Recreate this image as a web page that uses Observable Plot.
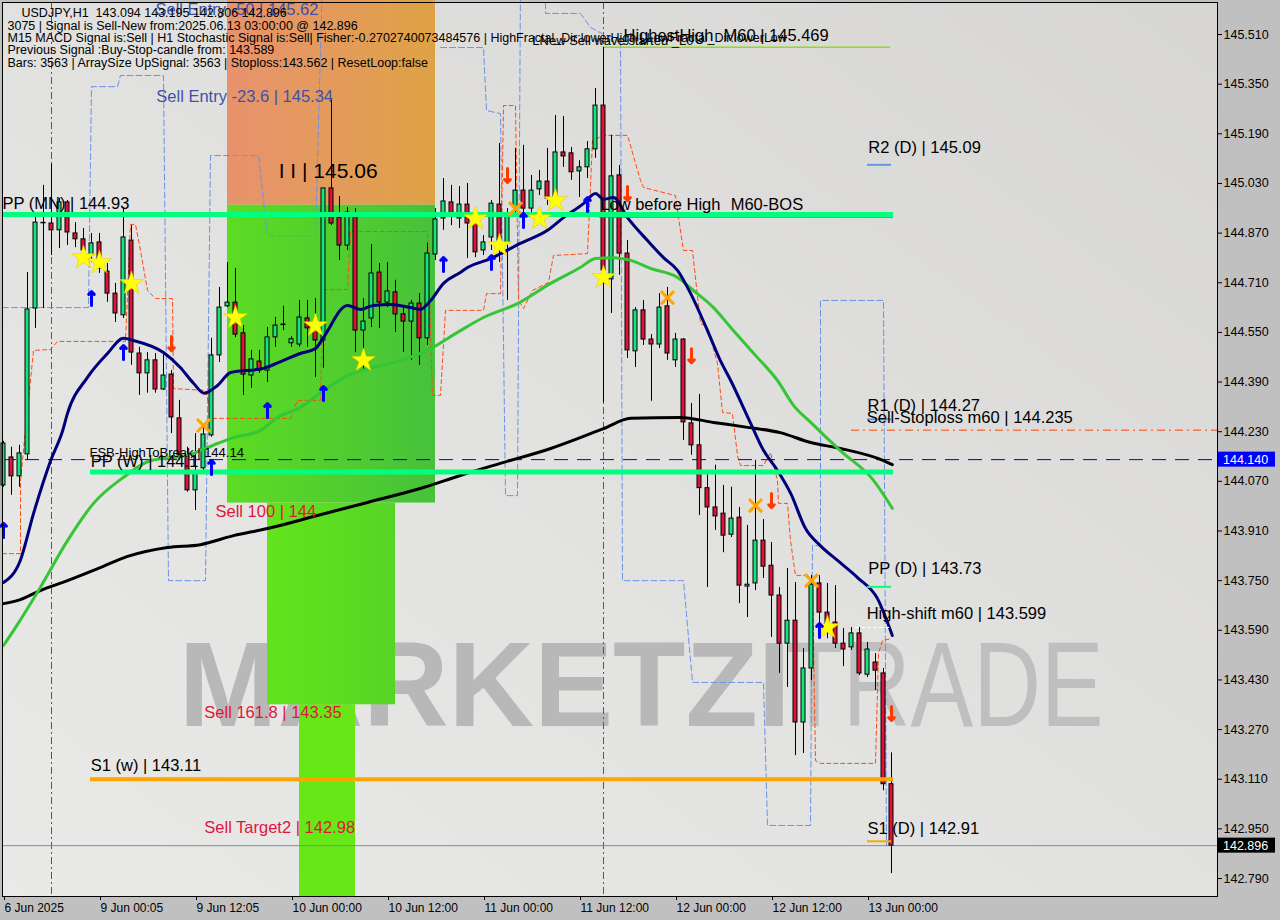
<!DOCTYPE html>
<html>
<head>
<meta charset="utf-8">
<script src="https://cdn.jsdelivr.net/npm/d3@7"></script>
<script src="https://cdn.jsdelivr.net/npm/@observablehq/plot@0.6"></script>
<style>
html,body{margin:0;padding:0;background:#c0c0c0;overflow:hidden}
#chart svg{display:block}
</style>
</head>
<body>
<div id="chart"></div>
<script>
// ---------- candles (USDJPY H1, 6 Jun 12:00 .. 13 Jun 03:00) ----------
const opens = [
144.057,144.147,144.086,144.157,144.627,144.900,144.901,144.879,144.969,144.869,
144.850,144.798,144.840,144.746,144.675,144.605,144.846,144.482,144.418,144.460,
144.366,144.414,144.273,144.154,144.041,144.112,144.218,144.476,144.634,144.646,
144.547,144.411,144.456,144.427,144.534,144.572,144.515,144.511,144.595,144.563,
144.524,145.014,144.920,144.830,144.933,144.556,144.595,144.743,144.646,144.679,
144.608,144.585,144.643,144.531,144.801,144.917,144.969,144.917,144.962,144.901,
144.814,144.856,144.962,144.837,144.952,145.007,144.949,145.011,145.036,144.985,
145.130,145.127,145.069,145.082,145.140,145.281,144.721,145.056,144.804,144.489,
144.621,144.527,144.511,144.634,144.460,144.527,144.257,144.186,144.048,143.986,
143.966,143.898,143.953,143.731,143.741,143.879,143.798,143.702,143.547,143.621,
143.293,143.467,143.741,143.647,143.615,143.547,143.535,143.580,143.447,143.486,
143.451,143.094];
const highs = [
144.199,144.180,144.186,144.743,144.927,145.024,145.092,144.982,144.975,144.904,
144.885,144.869,144.869,144.772,144.708,144.952,144.894,144.502,144.485,144.482,
144.482,144.427,144.331,144.180,144.224,144.244,144.531,144.695,144.775,144.756,
144.572,144.492,144.492,144.566,144.598,144.634,144.537,144.653,144.653,144.659,
145.014,145.298,144.988,144.952,144.949,144.659,144.833,144.772,144.775,144.718,
144.630,144.653,144.675,144.837,144.949,145.046,145.024,145.020,145.030,144.933,
144.862,144.975,145.159,144.949,145.143,145.153,145.056,145.072,145.143,145.249,
145.246,145.146,145.104,145.165,145.336,145.469,145.185,145.088,144.846,144.630,
144.653,144.543,144.675,144.695,144.547,144.530,144.321,144.350,144.096,144.122,
144.057,144.051,143.986,143.928,144.138,143.947,143.873,143.728,143.789,143.744,
143.531,143.766,143.766,143.741,143.734,143.596,143.599,143.599,143.551,143.515,
143.467,143.195];
const lows = [
144.051,144.025,144.051,144.138,144.563,144.627,144.798,144.820,144.830,144.823,
144.775,144.775,144.740,144.647,144.582,144.595,144.444,144.347,144.354,144.354,
144.363,144.224,144.138,144.035,143.976,144.105,144.212,144.453,144.630,144.533,
144.347,144.370,144.418,144.389,144.502,144.556,144.502,144.502,144.502,144.405,
144.434,144.895,144.782,144.814,144.485,144.427,144.566,144.563,144.630,144.550,
144.485,144.460,144.444,144.508,144.782,144.879,144.894,144.885,144.788,144.791,
144.798,144.814,144.775,144.653,144.936,144.927,144.936,144.991,144.959,144.975,
145.082,145.040,144.985,145.046,145.111,144.324,144.611,144.734,144.466,144.437,
144.508,144.328,144.498,144.460,144.437,144.202,144.154,143.960,143.728,143.912,
143.840,143.889,143.676,143.631,143.718,143.757,143.567,143.451,143.406,143.186,
143.193,143.428,143.583,143.563,143.531,143.473,143.525,143.444,143.438,143.396,
143.073,142.806];
const closes = [
144.192,144.086,144.160,144.624,144.904,144.904,144.879,144.969,144.872,144.850,
144.814,144.837,144.756,144.675,144.611,144.856,144.485,144.418,144.460,144.366,
144.411,144.276,144.154,144.041,144.096,144.221,144.476,144.630,144.646,144.543,
144.414,144.463,144.427,144.534,144.572,144.576,144.528,144.598,144.563,144.524,
145.014,144.901,144.830,144.936,144.556,144.585,144.740,144.646,144.682,144.608,
144.585,144.643,144.531,144.804,144.914,144.972,144.933,144.962,144.901,144.808,
144.840,144.965,144.846,144.927,145.007,144.949,145.007,145.036,144.981,145.130,
145.117,145.066,145.082,145.140,145.281,144.750,145.053,144.804,144.492,144.621,
144.527,144.511,144.630,144.482,144.527,144.260,144.186,144.048,143.986,143.957,
143.895,143.950,143.734,143.737,143.879,143.795,143.702,143.547,143.621,143.293,
143.467,143.737,143.647,143.599,143.547,143.528,143.580,143.451,143.528,143.460,
143.094,142.896];

// ---------- axis ticks ----------
const xTickIdx = [0,12,24,36,48,60,72,84,96,108];
const xTickLabels = ["6 Jun 2025","9 Jun 00:05","9 Jun 12:05","10 Jun 00:00","10 Jun 12:00","11 Jun 00:00","11 Jun 12:00","12 Jun 00:00","12 Jun 12:00","13 Jun 00:00"];
const yTicks = [145.51,145.35,145.19,145.03,144.87,144.71,144.55,144.39,144.23,144.07,143.91,143.75,143.59,143.43,143.27,143.11,142.95,142.79];

// ---------- moving averages ----------
const navyIdx = [0,2.1,3.75,5.9,7.4,8,10.5,13,15,16.25,20,22.1,23.75,25.1,26.75,28.4,32.5,35,37.1,39,40,43,44.6,46.25,48.4,50.9,52.1,53.4,55,57.1,58,60.9,64.6,68,70,72.5,74,75,76.25,78,80.5,82.5,84.25,85.9,88,89.6,90.9,93.4,95,96.75,98.4,100.25,102.1,104.25,106.75,109.25,111.1];
const navyVal = [143.744,143.815,143.966,144.137,144.234,144.289,144.405,144.482,144.531,144.524,144.485,144.437,144.386,144.354,144.379,144.421,144.434,144.460,144.482,144.498,144.534,144.637,144.624,144.637,144.640,144.630,144.624,144.653,144.708,144.743,144.759,144.788,144.837,144.879,144.920,144.965,144.998,144.979,144.985,144.920,144.846,144.791,144.750,144.675,144.556,144.460,144.395,144.257,144.170,144.105,144.031,143.918,143.863,143.815,143.760,143.692,143.573];
const greenIdx = [0,1.25,4.6,8,11.25,15,18.4,23,26.75,28.75,32.1,34.25,37.1,40,43,46.25,49.6,53,56.75,60,64.25,68.4,72.1,74,76.25,78.4,80.9,84.25,86.25,88.75,90.9,94,96.75,98.75,100.9,104.6,108.75,111.1];
const greenVal = [143.541,143.589,143.728,143.879,143.999,144.083,144.137,144.154,144.192,144.211,144.234,144.276,144.308,144.363,144.411,144.437,144.460,144.492,144.550,144.598,144.643,144.708,144.759,144.788,144.791,144.782,144.756,144.727,144.685,144.630,144.566,144.476,144.395,144.315,144.260,144.169,144.073,143.983];
const blackIdx = [0,2.1,4.6,8,12.1,15.5,20.5,24.6,28.75,33,39.25,45.5,52.5,57.1,62.1,68.4,72.1,75,78.4,84.6,88.75,93,97.1,100.9,104.6,110,111.1];
const blackVal = [143.676,143.689,143.718,143.750,143.792,143.828,143.857,143.866,143.895,143.918,143.960,144.002,144.050,144.089,144.128,144.176,144.211,144.240,144.273,144.276,144.260,144.244,144.227,144.195,144.176,144.137,144.124];

// ---------- step indicator lines ----------
const orangeIdx = [-0.125,2.125,2.125,3.75,5.875,6.75,15.25,15.875,16.5,17.125,18,19,21.125,21.25,25.25,26.125,35.875,36.75,39.625,40,43,43.375,53,53.625,54.625,55.25,60,60.375,62.125,62.5,64,64.375,65,66.125,68.125,68.75,73,73.625,75,78,79.625,80,84,84.375,85,86.125,87.125,88,89.25,89.875,91.125,91.75,92.125,95,95.875,96.75,96.875,98,98.375,99,100.5,101.125,101.5,102.125,109,109.375,109.875,110.875];
const orangeVal = [143.837,143.837,144.073,144.492,144.495,144.521,144.521,144.898,144.898,144.814,144.685,144.659,144.659,144.369,144.363,144.273,144.273,144.331,144.331,144.688,144.688,144.875,144.875,144.347,144.347,144.621,144.621,144.675,144.675,145.281,145.281,144.653,144.627,144.685,144.711,144.798,144.804,145.168,145.185,145.185,145.040,145.017,144.991,144.920,144.814,144.814,144.579,144.566,144.450,144.292,144.289,144.153,144.121,144.121,144.163,144.073,143.999,143.999,143.879,143.767,143.767,143.750,143.170,143.161,143.161,143.515,143.557,143.563];
const blue1Idx = [-0.125,10.625,11,14.25,14.625,20,20.625,25.25,25.875,31.875,33,39,39.875];
const blue1Val = [144.630,144.630,145.342,145.342,145.378,145.378,143.750,143.750,145.120,145.120,144.862,144.862,145.70];
const blue2Idx = [54.625,60,60.375,62.125,62.75,64.25,64.625];
const blue2Val = [145.468,145.468,145.265,145.255,144.024,144.024,145.70];
const blue3Idx = [67.75,67.75,72.125,73.375,75.25,77.125,77.375,85,86.125,95,95.5,100.875,101.125,102.125,102.125,110,110.375];
const blue3Val = [145.70,145.578,145.578,145.533,145.507,145.497,143.750,143.750,143.422,143.422,142.961,142.961,143.863,143.863,144.653,144.653,142.896];

// ---------- zones ----------
const zoneX1 = [28,28,33,37];
const zoneX2 = [54,54,49,44];
const zoneLo = [144.96,144.00,143.35,142.7321];
const zoneHi = [145.62,144.96,144.00,143.35];

// ---------- levels ----------
const ppMN = 144.93, ppW = 144.10, s1W = 143.11;
const bidPrice = 142.896, markPrice = 144.140, stopM60 = 144.235, highestHigh = 145.469;
const dailyR2 = 145.09, dailyR1 = 144.27, dailyPP = 143.73, dailyS1 = 142.91, highShift = 143.599;
const separatorIdx = [6, 75];

// ---------- signal markers ----------
const upArrowIdx = [0,11,15,26,33,40,55,61,65,73,102];
const upArrowVal = [143.912,144.659,144.485,144.115,144.298,144.353,144.769,144.775,144.911,144.962,143.589];
const dnArrowIdx = [21,63,78,86,96,111];
const dnArrowVal = [144.514,145.056,144.998,144.475,144.008,143.322];
const starIdx = [10,12,16,29,39,45,59,62,67,69,75,103];
const starVal = [144.791,144.775,144.708,144.598,144.572,144.460,144.917,144.830,144.917,144.975,144.727,143.599];
const crossIdx = [25,64,83,94,101];
const crossVal = [144.250,144.949,144.662,143.992,143.750];

// ---------- texts ----------
const blackLabels = [
 {t:"PP (MN) | 144.93", i:-0.125, v:144.965},
 {t:"Low before High", i:74.6, v:144.962},
 {t:"M60-BOS", i:90.9, v:144.962},
 {t:"HighestHigh", i:77.5, v:145.507},
 {t:"M60 | 145.469", i:90, v:145.507},
 {t:"R2 (D) | 145.09", i:108.1, v:145.146},
 {t:"R1 (D) | 144.27", i:108, v:144.314},
 {t:"Sell-Stoploss m60 | 144.235", i:107.9, v:144.276},
 {t:"PP (D) | 143.73", i:108.1, v:143.789},
 {t:"High-shift m60 | 143.599", i:107.9, v:143.644},
 {t:"S1 (D) | 142.91", i:108, v:142.951},
 {t:"PP (W) | 144.1", i:10.9, v:144.134},
 {t:"S1 (w) | 143.11", i:10.9, v:143.154}
];
const smallLabels = [
 {t:"FSB-HighToBreak | 144.14", i:10.75, v:144.163},
 {t:"LNew Sell wave started _L0", i:66.1, v:145.491}
];
const bigLabels = [{t:"I I | 145.06", i:34.4, v:145.069}];
const blueLabels = [
 {t:"Sell Entry -50 | 145.62", i:19, v:145.591},
 {t:"Sell Entry -23.6 | 145.34", i:19.1, v:145.310}
];
const redLabels = [
 {t:"Sell 100 | 144", i:26.5, v:143.973},
 {t:"Sell 161.8 | 143.35", i:25.1, v:143.325},
 {t:"Sell Target2 | 142.98", i:25.1, v:142.954}
];
const headerTop = "USDJPY,H1  143.094 143.195 142.806 142.896";
const headerLines = [
 "3075 | Signal is Sell-New from:2025.06.13 03:00:00 @ 142.896",
 "M15 MACD Signal is:Sell | H1 Stochastic Signal is:Sell| Fisher:-0.2702740073484576 | HighFractal_Dir:lowerHigh | LowFractal_Dir:lowerLow",
 "Previous Signal :Buy-Stop-candle from: 143.589",
 "Bars: 3563 | ArraySize UpSignal: 3563 | Stoploss:143.562 | ResetLoop:false"
];
const watermarkA = [{t:"MARKETZI", i:21.9, v:143.280}];
const watermarkB = [{t:"TRADE", i:97.75, v:143.280}];

// ---------- build ----------
const bars = opens.map((o, i) => ({i, open:o, high:highs[i], low:lows[i], close:closes[i]}));
const up = bars.filter(d => d.close - d.open > 0.004);
const down = bars.filter(d => d.open - d.close > 0.004);
const doji = bars.filter(d => Math.abs(d.close - d.open) <= 0.004);
const pts = (xs, vs, seg) => xs.map((x, k) => ({i:x, v:vs[k], seg}));
const navyMA = pts(navyIdx, navyVal), greenMA = pts(greenIdx, greenVal), blackMA = pts(blackIdx, blackVal);
const orangeLine = pts(orangeIdx, orangeVal);
const blueLine = [...pts(blue1Idx, blue1Val, 1), ...pts(blue2Idx, blue2Val, 2), ...pts(blue3Idx, blue3Val, 3)];
const zones = zoneX1.map((x, k) => ({x1:x, x2:zoneX2[k], lo:zoneLo[k], hi:zoneHi[k]}));
const upArrows = pts(upArrowIdx, upArrowVal), dnArrows = pts(dnArrowIdx, dnArrowVal);
const stars = pts(starIdx, starVal), crosses = pts(crossIdx, crossVal);
const X0 = -0.125, XMAX = 151.75, XEND = 111.25;
const font = "'Liberation Sans', Arial, sans-serif";
const seg = (v, a, b) => [{v, a, b}];
const lvl = (v, a, b, opts) => Plot.ruleY(seg(v, a, b), {y:"v", x1:"a", x2:"b", ...opts});
const txt = (data, opts) => Plot.text(data, {x:"i", y:"v", text:"t", textAnchor:"start", lineAnchor:"middle", fontFamily: font, ...opts});

const chart = Plot.plot({
  width: 1280, height: 920,
  marginLeft: 2, marginRight: 63, marginTop: 2, marginBottom: 24,
  x: {domain: [X0, XMAX]},
  y: {domain: [142.7321, 145.6132]},
  style: {background: "#c0c0c0", fontFamily: font, fontSize: "12px", color: "black"},
  marks: [
    Plot.frame({fill: "url(#bgGrad)", stroke: "none"}),
    txt(watermarkA, {lineAnchor:"bottom", fontSize:121, fontWeight:"bold", fill:"#b8b8b8"}),
    txt(watermarkB, {lineAnchor:"bottom", fontSize:121, fill:"#bfbfbf"}),
    Plot.rect([zones[0]], {x1:"x1", x2:"x2", y1:"lo", y2:"hi", fill:"url(#gOr)"}),
    Plot.rect([zones[1]], {x1:"x1", x2:"x2", y1:"lo", y2:"hi", fill:"url(#gG1)"}),
    Plot.rect([zones[2]], {x1:"x1", x2:"x2", y1:"lo", y2:"hi", fill:"url(#gG2)"}),
    Plot.rect([zones[3]], {x1:"x1", x2:"x2", y1:"lo", y2:"hi", fill:"#66e817"}),
    Plot.ruleX(separatorIdx, {x: d => d, stroke:"#c71585", strokeWidth:1, strokeDasharray:"7,3,2,3"}),
    Plot.line(blueLine, {x:"i", y:"v", z:"seg", stroke:"#6a93e6", strokeWidth:1, strokeDasharray:"6,3"}),
    Plot.line(orangeLine, {x:"i", y:"v", stroke:"#ff4a10", strokeWidth:1, strokeDasharray:"4,3"}),
    lvl(markPrice, X0, XMAX, {stroke:"#0000c8", strokeWidth:1, strokeDasharray:"14,9"}),
    lvl(bidPrice, X0, XMAX, {stroke:"#7d8bab", strokeWidth:1}),
    lvl(stopM60, 106, XMAX, {stroke:"#ff4500", strokeWidth:1, strokeDasharray:"8,4,2,4"}),
    lvl(highestHigh, 75, 110.9, {stroke:"#8fdc1e", strokeWidth:1.5}),
    // candles
    Plot.ruleX(bars, {x:"i", y1:"low", y2:"high", stroke:"black", strokeWidth:1}),
    Plot.rect(up, {x1: d => d.i - 0.25, x2: d => d.i + 0.25, y1:"open", y2:"close", fill:"#14e47c", stroke:"black", strokeWidth:1}),
    Plot.rect(down, {x1: d => d.i - 0.25, x2: d => d.i + 0.25, y1:"open", y2:"close", fill:"#dc143c", stroke:"black", strokeWidth:1}),
    Plot.ruleY(doji, {y:"close", x1: d => d.i - 0.32, x2: d => d.i + 0.32, stroke:"black", strokeWidth:1.5}),
    // moving averages
    Plot.line(blackMA, {x:"i", y:"v", stroke:"black", strokeWidth:3, curve:"monotone-x"}),
    Plot.line(greenMA, {x:"i", y:"v", stroke:"#34c634", strokeWidth:3, curve:"monotone-x"}),
    Plot.line(navyMA, {x:"i", y:"v", stroke:"#00007a", strokeWidth:3, curve:"monotone-x"}),
    // pivot levels
    lvl(ppMN - 0.008, 74.5, XEND, {stroke:"#ff4500", strokeWidth:1.5}),
    lvl(ppMN, X0, XEND, {stroke:"#00ff7f", strokeWidth:5}),
    lvl(ppW, 10.875, XEND, {stroke:"#00ff7f", strokeWidth:5}),
    lvl(s1W, 10.875, XEND, {stroke:"#ffa500", strokeWidth:4}),
    lvl(dailyR2, 108, 111, {stroke:"#6495ed", strokeWidth:2}),
    lvl(dailyR1, 108, 111, {stroke:"#6495ed", strokeWidth:2}),
    lvl(dailyPP, 108, 111, {stroke:"#00ff7f", strokeWidth:2}),
    lvl(dailyS1, 108, 111, {stroke:"#ffa500", strokeWidth:2}),
    lvl(highShift, 106.5, 111, {stroke:"#ffffff", strokeWidth:1, strokeDasharray:"4,2"}),
    // markers
    Plot.dot(stars, {x:"i", y:"v", symbol:"star", r:7.5, fill:"#ffff00", stroke:"#e0c800", strokeWidth:0.5}),
    Plot.dot(crosses, {x:"i", y:"v", symbol:"times", r:6, stroke:"#ffa500", strokeWidth:3}),
    Plot.vector(upArrows, {x:"i", y:"v", length:14, rotate:0, anchor:"middle", stroke:"#0000ff", strokeWidth:3}),
    Plot.vector(dnArrows, {x:"i", y:"v", length:14, rotate:180, anchor:"middle", stroke:"#ff3a00", strokeWidth:3}),
    // labels
    txt(blueLabels, {fontSize:16.5, fill:"#3f51a5"}),
    txt(bigLabels, {fontSize:21, fill:"black"}),
    txt(blackLabels, {fontSize:16.5, fill:"black"}),
    txt(smallLabels, {fontSize:13, fill:"black"}),
    txt(redLabels, {fontSize:16.5, fill:"#e0143c"}),
    Plot.text([headerTop], {text: d => d, frameAnchor:"top-left", dx:19, dy:5.8, textAnchor:"start", lineAnchor:"top", fontSize:12.5, fontFamily:font, fill:"black"}),
    Plot.text([headerLines.join("\n")], {text: d => d, frameAnchor:"top-left", dx:5, dy:18.4, textAnchor:"start", lineAnchor:"top", lineHeight:0.99, fontSize:12.5, fontFamily:font, fill:"black"}),
    Plot.frame({stroke:"black", strokeWidth:1}),
    Plot.axisX(xTickIdx, {anchor:"bottom", tickSize:4, tickPadding:3, tickFormat: d => xTickLabels[xTickIdx.indexOf(d)], textAnchor:"start", dx:1, fontSize:12, label:null, fill:"black"}),
    Plot.axisY(yTicks, {anchor:"right", tickSize:4, tickPadding:2, tickFormat: d => d.toFixed(3), fontSize:12.5, label:null, fill:"black"})
  ]
});

// gradients
const svg = d3.select(chart);
const defs = svg.insert("defs", ":first-child");
function grad(id, stops, x1, y1, x2, y2) {
  const g = defs.append("linearGradient").attr("id", id).attr("x1", x1).attr("y1", y1).attr("x2", x2).attr("y2", y2);
  stops.forEach(([o, c]) => g.append("stop").attr("offset", o).attr("stop-color", c));
}
grad("bgGrad", [[0, "#e9e9e8"], [0.45, "#e2e2e1"], [1, "#d7d6d3"]], 0, 1, 1, 0);
grad("gOr", [[0, "#e8926d"], [0.6, "#e39c58"], [1, "#dea244"]], 0, 0, 1, 0);
grad("gG1", [[0, "#5cdc22"], [1, "#47c13b"]], 0, 0, 1, 0);
grad("gG2", [[0, "#62e41b"], [1, "#56d526"]], 0, 0, 1, 0);

// watermark widths
svg.selectAll("text").filter(function() { return this.textContent === "MARKETZI"; })
  .attr("textLength", 612).attr("lengthAdjust", "spacingAndGlyphs");
svg.selectAll("text").filter(function() { return this.textContent === "TRADE"; })
  .attr("textLength", 318).attr("lengthAdjust", "spacingAndGlyphs");

// highlighted price labels on the right axis
const ySc = chart.scale("y"), xSc = chart.scale("x");
const xr = xSc.apply(XMAX);
const hl = svg.append("g").attr("text-anchor", "start");
[[markPrice, "#0000ff"], [bidPrice, "#000000"]].forEach(([v, c]) => {
  const yy = ySc.apply(v);
  hl.append("rect").attr("x", xr + 1).attr("y", yy - 7.5).attr("width", 57).attr("height", 15).attr("fill", c);
  hl.append("text").attr("x", xr + 6).attr("y", yy + 4.5).attr("fill", "white").attr("text-anchor", "start")
    .attr("font-family", font).attr("font-size", 12.5).text(v.toFixed(3));
});

document.getElementById("chart").appendChild(chart);
</script>
</body>
</html>
